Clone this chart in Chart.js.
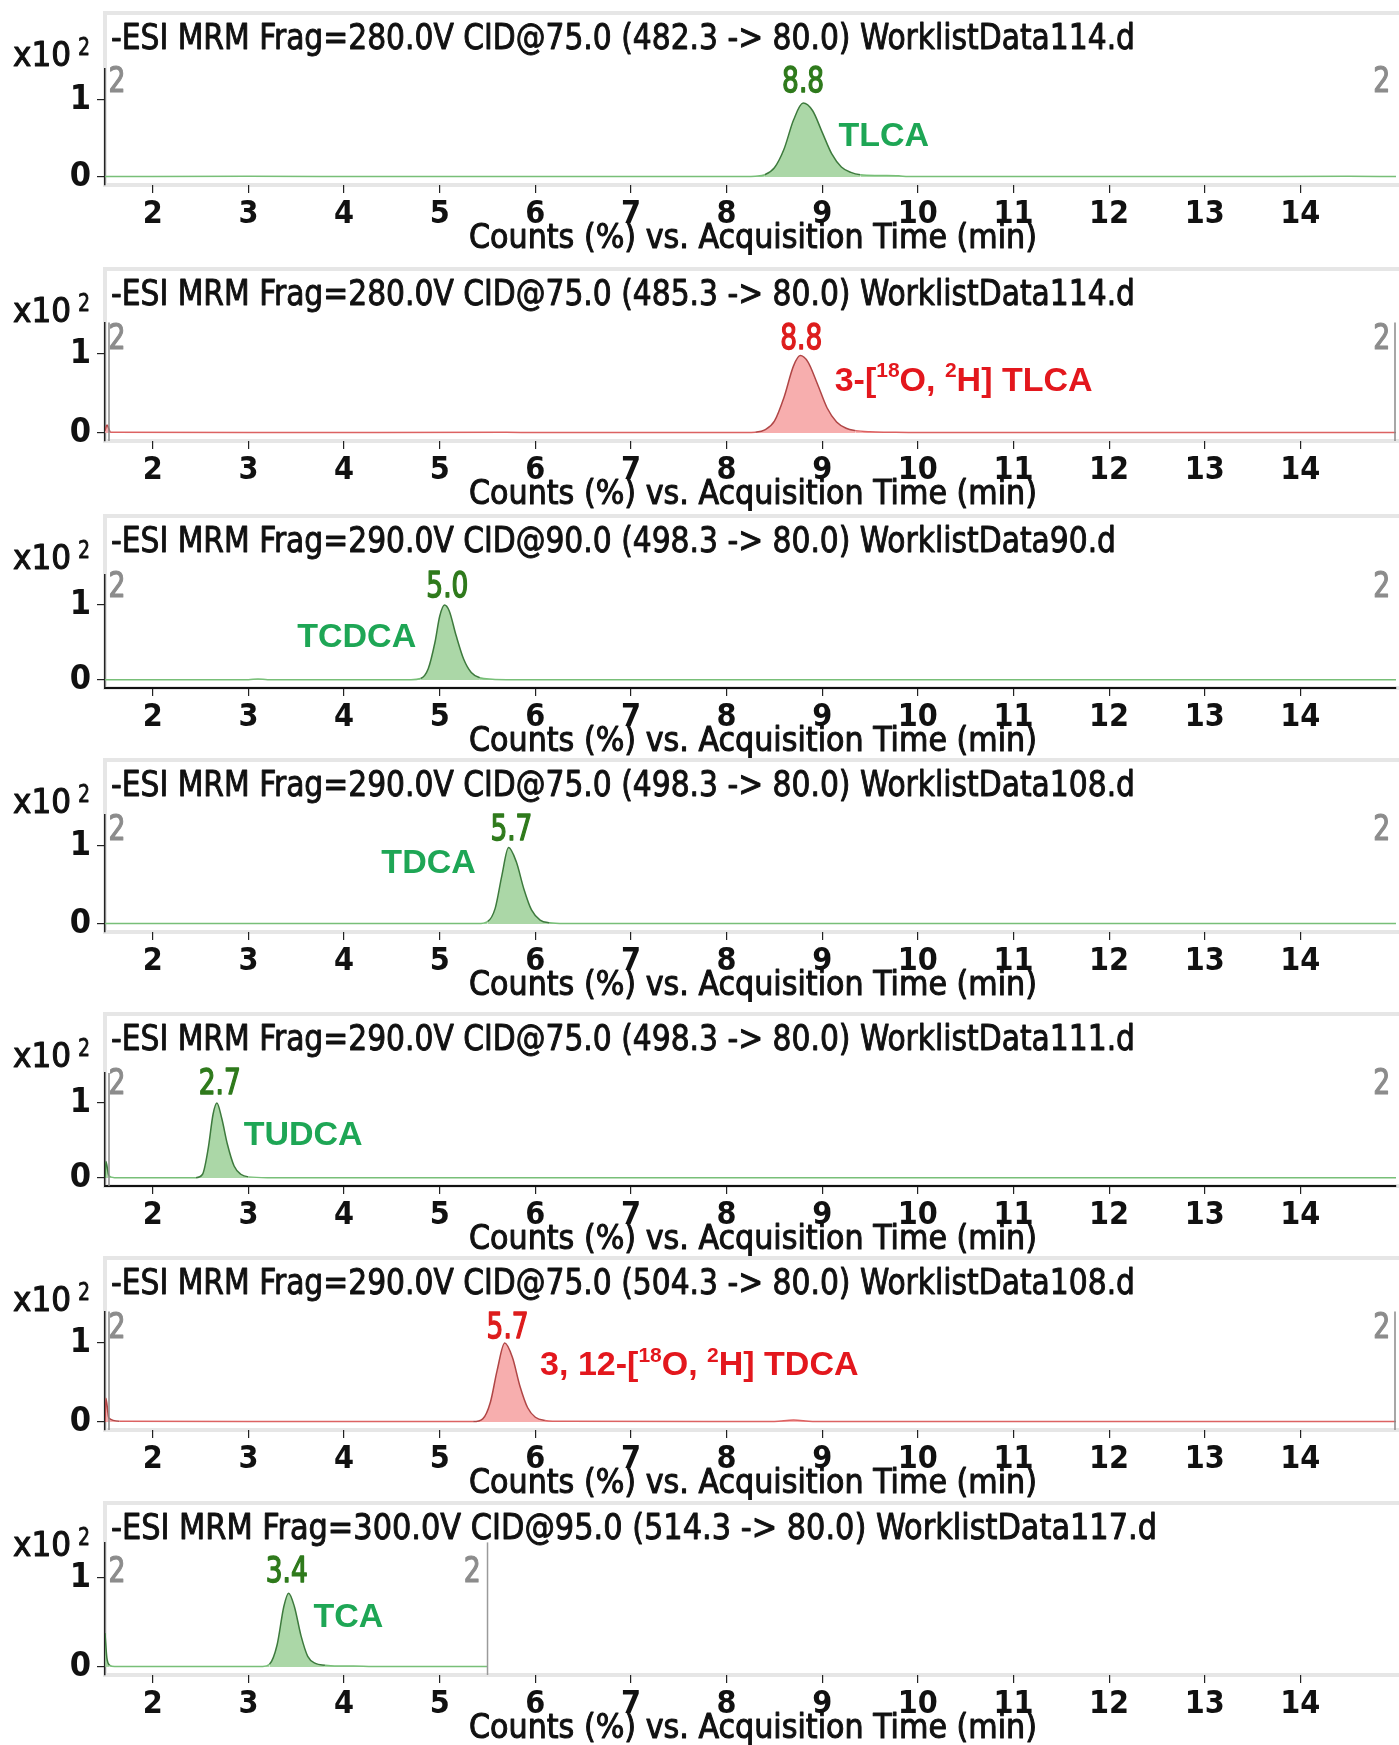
<!DOCTYPE html>
<html>
<head>
<meta charset="utf-8">
<script src="https://cdn.jsdelivr.net/npm/chart.js@4.4.1/dist/chart.umd.min.js"></script>
<style>
  html, body { margin: 0; padding: 0; background: #fff; }
  #wrap { position: relative; width: 1399px; height: 1745px; overflow: hidden; }
  #wrap canvas { position: absolute; left: 0; }
</style>
</head>
<body>
<div id="wrap"></div>
<script>
// ---- data ----
const xTicks = [2, 3, 4, 5, 6, 7, 8, 9, 10, 11, 12, 13, 14];
const yTicks = [0, 1];

const titles = [
  "-ESI MRM Frag=280.0V CID@75.0 (482.3 -> 80.0) WorklistData114.d",
  "-ESI MRM Frag=280.0V CID@75.0 (485.3 -> 80.0) WorklistData114.d",
  "-ESI MRM Frag=290.0V CID@90.0 (498.3 -> 80.0) WorklistData90.d",
  "-ESI MRM Frag=290.0V CID@75.0 (498.3 -> 80.0) WorklistData108.d",
  "-ESI MRM Frag=290.0V CID@75.0 (498.3 -> 80.0) WorklistData111.d",
  "-ESI MRM Frag=290.0V CID@75.0 (504.3 -> 80.0) WorklistData108.d",
  "-ESI MRM Frag=300.0V CID@95.0 (514.3 -> 80.0) WorklistData117.d"
];
const peakTimes = ["8.8", "8.8", "5.0", "5.7", "2.7", "5.7", "3.4"];
// compound names, [text, isSuperscript]
const compounds = [
  [["TLCA", 0]],
  [["3-[", 0], ["18", 1], ["O, ", 0], ["2", 1], ["H] TLCA", 0]],
  [["TCDCA", 0]],
  [["TDCA", 0]],
  [["TUDCA", 0]],
  [["3, 12-[", 0], ["18", 1], ["O, ", 0], ["2", 1], ["H] TDCA", 0]],
  [["TCA", 0]]
];
const segmentLabel = "2";
const yExponent = "2";
const xTitle = "Counts (%) vs. Acquisition Time (min)";

// traces (time in min, counts x10^2)
const tlcaX = [1.5, 3.0, 4.5, 6.0, 7.5, 8.2, 8.3, 8.4, 8.5, 8.6, 8.7, 8.8, 8.9, 9.0, 9.1, 9.2, 9.3, 9.4, 9.6, 9.8, 9.9, 11.0, 13.0, 14.5, 15.0];
const tlcaY = [0.005, 0.01, 0.005, 0.008, 0.005, 0.005, 0.01, 0.03, 0.12, 0.36, 0.74, 0.96, 0.86, 0.58, 0.30, 0.13, 0.06, 0.03, 0.02, 0.015, 0.005, 0.005, 0.005, 0.01, 0.005];

const d2TlcaX = [1.5, 1.52, 1.56, 3.0, 5.7, 6.0, 8.2, 8.3, 8.4, 8.5, 8.6, 8.7, 8.77, 8.85, 8.95, 9.05, 9.15, 9.25, 9.35, 9.5, 9.7, 10.0, 15.0];
const d2TlcaY = [0.03, 0.10, 0.01, 0.005, 0.01, 0.005, 0.005, 0.01, 0.04, 0.15, 0.45, 0.85, 0.98, 0.90, 0.62, 0.32, 0.14, 0.06, 0.03, 0.015, 0.01, 0.005, 0.005];

const tcdcaX = [1.5, 3.0, 3.1, 3.2, 4.7, 4.8, 4.88, 4.95, 5.0, 5.05, 5.1, 5.17, 5.25, 5.33, 5.42, 5.55, 5.7, 15.0];
const tcdcaY = [0.005, 0.005, 0.015, 0.005, 0.005, 0.02, 0.15, 0.50, 0.85, 1.0, 0.92, 0.60, 0.28, 0.10, 0.03, 0.01, 0.005, 0.005];

const tdcaX = [1.5, 4.0, 5.4, 5.5, 5.58, 5.65, 5.72, 5.8, 5.88, 5.96, 6.05, 6.15, 6.3, 15.0];
const tdcaY = [0.005, 0.005, 0.005, 0.03, 0.20, 0.62, 0.98, 0.80, 0.45, 0.18, 0.05, 0.015, 0.005, 0.005];

const tudcaX = [1.5, 1.51, 1.54, 1.6, 2.45, 2.52, 2.58, 2.63, 2.67, 2.72, 2.78, 2.85, 2.92, 3.0, 3.2, 15.0];
const tudcaY = [0.0, 0.22, 0.03, 0.005, 0.005, 0.05, 0.40, 0.85, 1.0, 0.80, 0.45, 0.16, 0.05, 0.015, 0.005, 0.005];

const d2TdcaX = [1.5, 1.51, 1.54, 1.65, 3.0, 5.35, 5.45, 5.53, 5.6, 5.68, 5.76, 5.84, 5.92, 6.0, 6.1, 6.3, 8.5, 8.7, 8.9, 15.0];
const d2TdcaY = [0.0, 0.30, 0.05, 0.01, 0.005, 0.005, 0.04, 0.25, 0.65, 1.0, 0.82, 0.45, 0.18, 0.06, 0.02, 0.008, 0.005, 0.025, 0.005, 0.005];

const tcaX = [1.5, 1.52, 1.55, 1.6, 3.15, 3.22, 3.3, 3.37, 3.42, 3.48, 3.55, 3.62, 3.7, 3.8, 3.9, 4.1, 4.3, 5.5];
const tcaY = [0.38, 0.10, 0.02, 0.005, 0.005, 0.03, 0.25, 0.68, 0.83, 0.68, 0.35, 0.12, 0.04, 0.02, 0.01, 0.012, 0.005, 0.005];

// label anchors in data units
const timeLabelPos = [[8.80, 1.22], [8.78, 1.18], [5.08, 1.23], [5.75, 1.19], [2.70, 1.24], [5.71, 1.18], [3.40, 1.06]];
const nameLabelPos = [[9.17, 0.53], [9.13, 0.65], [3.51, 0.56], [4.39, 0.77], [2.95, 0.56], [6.05, 0.71], [3.68, 0.56]];

// ---- look ----
const GREEN = { line: "#78bf78", peak: "#3d7a3d", fill: "rgba(150,205,145,0.8)", time: "#2f7a1c", name: "#1ea655" };
const RED = { line: "#dc6262", peak: "#b04646", fill: "rgba(246,160,160,0.85)", time: "#dd1c1c", name: "#e3171d" };
const NARROW = "'Liberation Sans Narrow', 'DejaVu Sans Condensed', 'Roboto Condensed', 'Liberation Sans', sans-serif";
const ARIAL = "'Liberation Sans', Arial, sans-serif";

const panels = [
  { xs: tlcaX, ys: tlcaY, col: GREEN, zero: 177, unit: 77, tw: 1024, xBorder: false, leftSeg: false, rightSeg: false, end: null, segR: 14.85 },
  { xs: d2TlcaX, ys: d2TlcaY, col: RED, zero: 433, unit: 79, tw: 1024, xBorder: false, leftSeg: true, rightSeg: true, end: null, segR: 14.85 },
  { xs: tcdcaX, ys: tcdcaY, col: GREEN, zero: 680, unit: 75, tw: 1005, xBorder: true, leftSeg: false, rightSeg: false, end: null, segR: 14.85 },
  { xs: tdcaX, ys: tdcaY, col: GREEN, zero: 924, unit: 78, tw: 1024, xBorder: false, leftSeg: false, rightSeg: false, end: null, segR: 14.85 },
  { xs: tudcaX, ys: tudcaY, col: GREEN, zero: 1178, unit: 75, tw: 1024, xBorder: true, leftSeg: true, rightSeg: false, end: null, segR: 14.85 },
  { xs: d2TdcaX, ys: d2TdcaY, col: RED, zero: 1422, unit: 79, tw: 1024, xBorder: false, leftSeg: true, rightSeg: true, end: null, segR: 14.85 },
  { xs: tcaX, ys: tcaY, col: GREEN, zero: 1667, unit: 89, tw: 1046, xBorder: false, leftSeg: false, rightSeg: false, end: 5.5, segR: 5.34 }
];

const ABOVE = 175;   // canvas top above the zero line
const XAXIS_H = 70;  // room for tick labels + axis title

// draws text squeezed to a given width; stroke > 0 thickens the glyphs a little
const fitText = (ctx, text, x, y, w, font, color, align = "left", stroke = 0) => {
  ctx.save();
  ctx.font = font;
  const m = ctx.measureText(text).width;
  const s = w / m;
  ctx.translate(align === "center" ? x - w / 2 : x, y);
  ctx.scale(s, 1);
  ctx.fillStyle = color;
  ctx.textAlign = "left";
  ctx.textBaseline = "middle";
  ctx.fillText(text, 0, 0);
  if (stroke > 0) {
    ctx.strokeStyle = color;
    ctx.lineWidth = stroke;
    ctx.lineJoin = "round";
    ctx.strokeText(text, 0, 0);
  }
  ctx.restore();
};

const drawParts = (ctx, parts, x, y, size, color) => {
  ctx.save();
  ctx.fillStyle = color;
  ctx.textBaseline = "middle";
  ctx.textAlign = "left";
  let cx = x;
  parts.forEach(([t, sup]) => {
    ctx.font = `bold ${sup ? Math.round(size * 0.62) : size}px ${ARIAL}`;
    ctx.fillText(t, cx, sup ? y - size * 0.3 : y);
    cx += ctx.measureText(t).width;
  });
  ctx.restore();
};

const wrap = document.getElementById("wrap");

panels.forEach((p, i) => {
  const top = p.zero - ABOVE;
  const height = ABOVE + 8 + XAXIS_H;
  const cv = document.createElement("canvas");
  cv.width = 1399;
  cv.height = height;
  cv.style.top = top + "px";
  cv.style.width = "1399px";
  cv.style.height = height + "px";
  wrap.appendChild(cv);

  const yMax = 1.4;
  const yMin = -8 / p.unit;
  const padTop = ABOVE - yMax * p.unit;

  const annot = {
    id: "annot" + i,
    beforeDraw(chart) {
      const { ctx, chartArea: a } = chart;
      // frame round title + plot
      ctx.save();
      ctx.strokeStyle = "#e6e6e6";
      ctx.lineWidth = 4;
      ctx.strokeRect(a.left, ABOVE - 164, 1399 - a.left + 4, a.bottom - (ABOVE - 164));
      ctx.fillStyle = "#fff";
      ctx.fillRect(a.left + 2, ABOVE - 162, 1399 - a.left, a.bottom - (ABOVE - 162) - 2);
      ctx.restore();
      fitText(ctx, titles[i], 111, ABOVE - 137, p.tw, `35px ${NARROW}`, "#111", "left", 0.9);
      // x10^2
      fitText(ctx, "x10", 13, ABOVE - 120, 58, `33px ${NARROW}`, "#111", "left", 1);
      fitText(ctx, yExponent, 78, ABOVE - 129, 12, `25px ${NARROW}`, "#111", "left", 0.8);
    },
    afterDatasetsDraw(chart) {
      const { ctx, chartArea: a, scales: { x, y } } = chart;
      ctx.save();
      ctx.strokeStyle = "#8a8a8a";
      ctx.lineWidth = 1.5;
      if (p.leftSeg) {
        ctx.beginPath();
        ctx.moveTo(a.left + 4, a.top);
        ctx.lineTo(a.left + 4, a.bottom);
        ctx.stroke();
      }
      if (p.rightSeg) {
        ctx.beginPath();
        ctx.moveTo(a.right - 1, a.top);
        ctx.lineTo(a.right - 1, a.bottom);
        ctx.stroke();
      }
      if (p.end !== null) {
        const ex = x.getPixelForValue(p.end);
        ctx.strokeStyle = "#9a9a9a";
        ctx.beginPath();
        ctx.moveTo(ex, a.top);
        ctx.lineTo(ex, a.bottom);
        ctx.stroke();
      }
      ctx.restore();

      const segY = y.getPixelForValue(timeLabelPos[i][1]);
      fitText(ctx, segmentLabel, x.getPixelForValue(1.625), segY, 17, `35px ${NARROW}`, "#8c8c8c", "center", 1.2);
      fitText(ctx, segmentLabel, x.getPixelForValue(p.segR), segY, 17, `35px ${NARROW}`, "#8c8c8c", "center", 1.2);
      // retention time
      fitText(ctx, peakTimes[i], x.getPixelForValue(timeLabelPos[i][0]), segY, 42, `35px ${NARROW}`, p.col.time, "center", 1.4);

      drawParts(ctx, compounds[i], x.getPixelForValue(nameLabelPos[i][0]),
        y.getPixelForValue(nameLabelPos[i][1]), 34, p.col.name);
    },
    afterDraw(chart) {
      const { ctx, chartArea: a } = chart;
      fitText(ctx, xTitle, 469, a.bottom + 54, 568, `34px ${NARROW}`, "#111", "left", 1);
    }
  };

  new Chart(cv, {
    type: "line",
    data: {
      datasets: [{
        data: p.xs.map((v, k) => ({ x: v, y: p.ys[k] })),
        borderColor: p.col.line,
        backgroundColor: p.col.fill,
        borderWidth: 1.5,
        pointRadius: 0,
        fill: "origin",
        cubicInterpolationMode: "monotone",
        segment: {
          borderColor: (c) => Math.max(c.p0.parsed.y, c.p1.parsed.y) > 0.03 ? p.col.peak : p.col.line
        }
      }]
    },
    options: {
      responsive: false,
      animation: false,
      devicePixelRatio: 1,
      layout: { padding: { top: padTop, left: 0, right: 3, bottom: 0 } },
      plugins: { legend: { display: false }, tooltip: { enabled: false }, title: { display: false } },
      scales: {
        x: {
          type: "linear",
          min: 1.5,
          max: 15,
          afterBuildTicks: (s) => { s.ticks = xTicks.map((v) => ({ value: v })); },
          afterFit: (s) => { s.height = XAXIS_H; },
          grid: { drawOnChartArea: false, drawTicks: true, tickLength: 8, color: "#222", lineWidth: 1.2 },
          border: { display: p.xBorder, color: "#111", width: 2 },
          ticks: {
            color: "#111",
            padding: 6,
            maxRotation: 0,
            autoSkip: false,
            font: { family: NARROW, size: 32, weight: "bold", lineHeight: 1 }
          }
        },
        y: {
          min: yMin,
          max: yMax,
          afterBuildTicks: (s) => { s.ticks = yTicks.map((v) => ({ value: v })); },
          afterFit: (s) => { s.width = 105; },
          grid: { drawOnChartArea: false, drawTicks: true, tickLength: 8, color: "#222", lineWidth: 1.2 },
          border: { display: true, color: "#222", width: 1.5 },
          ticks: {
            color: "#111",
            padding: 6,
            font: { family: NARROW, size: 34, weight: "bold", lineHeight: 1 }
          }
        }
      }
    },
    plugins: [annot]
  });
});
</script>
</body>
</html>
